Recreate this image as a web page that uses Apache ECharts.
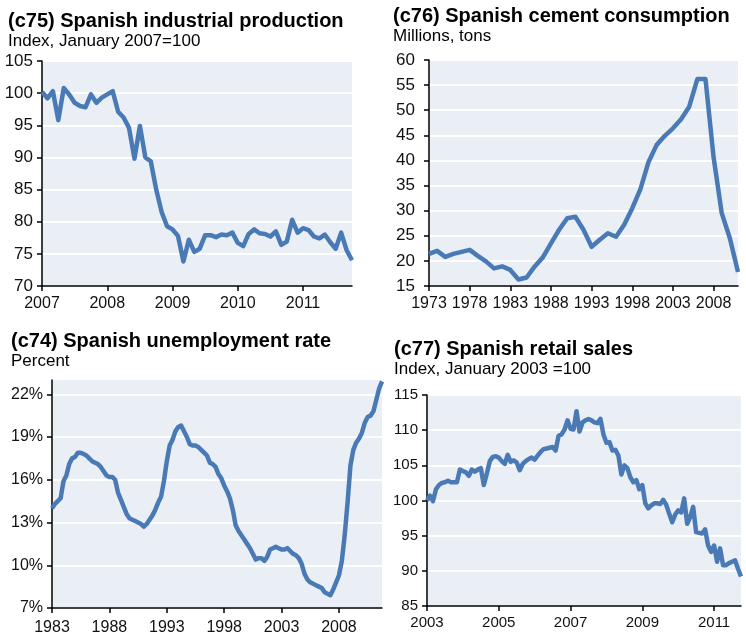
<!DOCTYPE html>
<html>
<head>
<meta charset="utf-8">
<script src="https://cdn.jsdelivr.net/npm/echarts@6/dist/echarts.min.js"></script>
<style>
  html, body { margin: 0; padding: 0; background: #fff; }
  #chart { width: 746px; height: 642px; }
</style>
</head>
<body>
<div id="chart"></div>
<script>
// c75 industrial production, monthly Jan 2007 - Oct 2011
var indProd = [
  100.2, 99.2, 100.3, 95.8, 100.8, 99.8, 98.5, 98.0, 97.8, 99.8, 98.5, 99.3,
  99.8, 100.3, 97.1, 96.2, 94.6, 89.8, 94.9, 90.0, 89.4, 85.0, 81.5, 79.3,
  78.8, 77.8, 73.8, 77.2, 75.3, 75.8, 77.9, 77.9, 77.6, 78.0, 77.9, 78.3,
  76.7, 76.2, 78.1, 78.8, 78.2, 78.1, 77.7, 78.5, 76.4, 76.9, 80.3, 78.3,
  79.0, 78.7, 77.7, 77.4, 78.0, 76.8, 75.8, 78.3, 75.6, 74.0
];

// c76 cement consumption, yearly 1973 - 2011
var cementYears = [];
for (var y = 1973; y <= 2011; y++) cementYears.push(String(y));
var cement = [
  21.4, 22.0, 20.8, 21.4, 21.8, 22.2, 21.0, 19.9, 18.5, 18.9,
  18.2, 16.3, 16.7, 18.9, 20.7, 23.5, 26.2, 28.5, 28.8, 26.2,
  22.8, 24.2, 25.5, 24.8, 27.2, 30.5, 34.3, 39.7, 43.1, 44.9,
  46.4, 48.2, 50.7, 56.2, 56.2, 40.6, 29.5, 24.5, 17.8
];

// c74 unemployment rate, quarterly 1983Q1 - 2011Q4
var unemp = [
  14.0, 14.3, 14.5, 14.7, 15.9, 16.3, 17.1, 17.5, 17.6, 17.9,
  17.9, 17.8, 17.7, 17.5, 17.3, 17.2, 17.1, 16.9, 16.6, 16.3,
  16.2, 16.2, 16.0, 15.1, 14.6, 14.1, 13.6, 13.3, 13.2, 13.1,
  13.0, 12.9, 12.7, 12.9, 13.2, 13.5, 13.9, 14.4, 14.8, 15.9,
  17.3, 18.4, 18.8, 19.4, 19.7, 19.8, 19.4, 19.0, 18.5, 18.4,
  18.4, 18.3, 18.1, 17.9, 17.7, 17.2, 17.1, 16.9, 16.4, 16.1,
  15.6, 15.2, 14.7, 13.9, 12.8, 12.4, 12.1, 11.8, 11.5, 11.2,
  10.8, 10.4, 10.5, 10.5, 10.3, 10.6, 11.1, 11.2, 11.3, 11.2,
  11.1, 11.1, 11.2, 11.0, 10.8, 10.7, 10.5, 10.1, 9.4, 9.0,
  8.8, 8.7, 8.6, 8.5, 8.4, 8.1, 8.0, 7.9, 8.3, 8.8,
  9.3, 10.3, 12.1, 14.4, 17.0, 18.1, 18.6, 18.9, 19.3, 20.0,
  20.4, 20.5, 20.8, 21.6, 22.4, 22.9
];

// c77 retail sales, monthly Jan 2003 - Oct 2011
var retail = [
  100.0, 100.7, 99.9, 101.6, 102.2, 102.5, 102.6, 102.8, 102.6, 102.6, 102.6, 104.4,
  104.2, 104.0, 103.5, 104.4, 104.1, 104.4, 104.6, 102.2, 103.8, 105.6, 106.2, 106.3,
  106.1, 105.6, 105.2, 106.5, 105.5, 105.7, 105.4, 104.3, 105.2, 105.6, 105.9, 106.1,
  105.8, 106.4, 106.9, 107.3, 107.4, 107.5, 107.6, 107.1, 109.2, 109.4, 110.1, 111.4,
  110.2, 110.1, 112.7, 109.8, 111.1, 111.4, 111.6, 111.4, 111.1, 111.0, 111.6, 109.4,
  108.2, 108.3, 107.1, 107.2, 106.4, 103.7, 105.0, 104.6, 103.3, 102.6, 102.9, 101.6,
  102.2, 99.6, 98.9, 99.3, 99.6, 99.6, 99.5, 100.1, 99.4, 98.1, 96.9, 98.0,
  98.6, 98.3, 100.3, 96.7, 97.6, 99.1, 95.5, 95.4, 95.3, 95.9, 93.6, 92.7,
  93.6, 91.3, 93.2, 90.8, 90.8, 91.1, 91.3, 91.5, 90.3, 89.2
];

var unempTicks = [7, 10, 13, 16, 19, 22];

function months(y0, n) {
  var out = [];
  for (var i = 0; i < n; i++) {
    var m = i % 12 + 1;
    out.push((y0 + Math.floor(i / 12)) + '-' + (m < 10 ? '0' + m : m));
  }
  return out;
}
function quarters(y0, n) {
  var out = [];
  for (var i = 0; i < n; i++) out.push((y0 + Math.floor(i / 4)) + 'Q' + (i % 4 + 1));
  return out;
}

var indMonths = months(2007, indProd.length);
var retailMonths = months(2003, retail.length);
var unempQuarters = quarters(1983, unemp.length);

var lineColor = '#4a7ab5';
var plotBg = '#e9eff4';
var font = '"Liberation Sans", Arial, sans-serif';

function every(n) {
  return function (idx) { return idx % n === 0; };
}

function xAxisFor(gridIndex, data, step, fontSize, margin) {
  return {
    type: 'category', gridIndex: gridIndex, data: data, boundaryGap: false,
    axisLine: { lineStyle: { color: '#000', width: 1.5 } },
    axisTick: { interval: every(step), length: 5, lineStyle: { color: '#000', width: 1.5 } },
    axisLabel: {
      interval: every(step), color: '#111', fontSize: fontSize, margin: margin, fontFamily: font,
      formatter: function (v) { return v.slice(0, 4); }
    },
    splitLine: { show: false }
  };
}

function yAxisFor(gridIndex, min, max, interval, fontSize, margin, fmt) {
  return {
    type: 'value', gridIndex: gridIndex, min: min, max: max, interval: interval,
    axisLine: { show: true, lineStyle: { color: '#000', width: 1.5 } },
    axisTick: { show: true, length: 5, lineStyle: { color: '#000', width: 1.5 } },
    axisLabel: { color: '#111', fontSize: fontSize, margin: margin, fontFamily: font, formatter: fmt },
    splitLine: { lineStyle: { color: '#ffffff', width: 2 } }
  };
}

function titleFor(text, sub, left, top) {
  return {
    text: text, subtext: sub, left: left, top: top, padding: 0, itemGap: 2,
    textStyle: { fontSize: 20, fontWeight: 'bold', color: '#000', fontFamily: font, lineHeight: 20 },
    subtextStyle: { fontSize: 17, color: '#000', fontFamily: font, lineHeight: 17 }
  };
}

function gridFor(left, top, width, height) {
  return { left: left, top: top, width: width, height: height, show: true, backgroundColor: plotBg, borderWidth: 0 };
}

function lineFor(idx, data) {
  return {
    type: 'line', xAxisIndex: idx, yAxisIndex: idx, data: data,
    showSymbol: false, animation: false,
    lineStyle: { color: lineColor, width: 4.5, join: 'round' }
  };
}

var unempY = yAxisFor(2, 7, 23, 3, 16, 9, function (v) {
  return unempTicks.indexOf(v) >= 0 ? v + '%' : '';
});
unempY.axisLabel.customValues = unempTicks;
unempY.axisTick.customValues = unempTicks;

var chart = echarts.init(document.getElementById('chart'));

chart.setOption({
  backgroundColor: '#fff',
  animation: false,
  title: [
    titleFor('(c75) Spanish industrial production', 'Index, January 2007=100', 8, 11),
    titleFor('(c76) Spanish cement consumption', 'Millions, tons', 393, 6),
    titleFor('(c74) Spanish unemployment rate', 'Percent', 11, 331),
    titleFor('(c77) Spanish retail sales', 'Index, January 2003 =100', 394, 339)
  ],
  grid: [
    gridFor(42, 61, 310, 225),
    gridFor(429, 60, 309, 226),
    gridFor(52, 380, 330, 228),
    gridFor(427, 395, 314, 211)
  ],
  xAxis: [
    xAxisFor(0, indMonths, 12, 16, 10),
    xAxisFor(1, cementYears, 5, 16, 10),
    xAxisFor(2, unempQuarters, 20, 16, 12),
    xAxisFor(3, retailMonths, 24, 15, 9)
  ],
  yAxis: [
    yAxisFor(0, 70, 105, 5, 17, 9),
    yAxisFor(1, 15, 60, 5, 17, 14),
    unempY,
    yAxisFor(3, 85, 115, 5, 15, 9)
  ],
  series: [
    lineFor(0, indProd),
    lineFor(1, cement),
    lineFor(2, unemp),
    lineFor(3, retail)
  ]
});
</script>
</body>
</html>
